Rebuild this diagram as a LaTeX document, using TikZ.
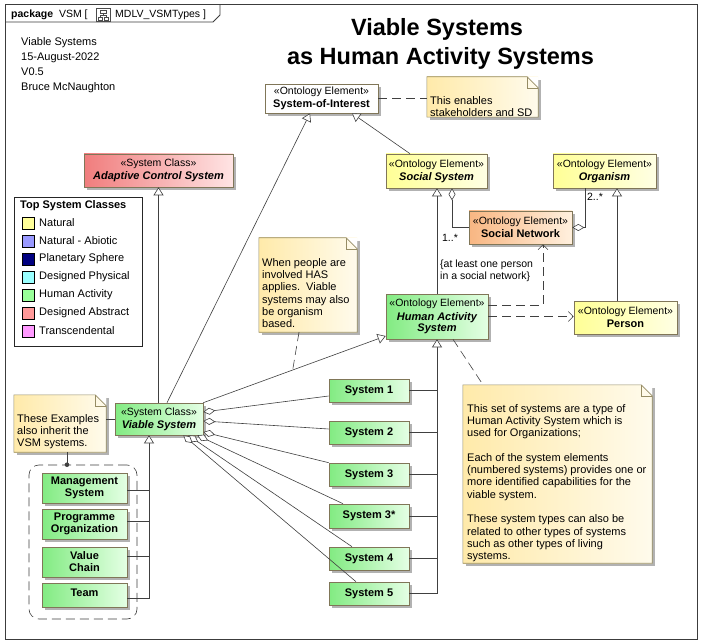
\documentclass[tikz,border=0pt]{standalone}
\usepackage{fontspec}
\setmainfont{Liberation Sans}
\usetikzlibrary{arrows.meta,shadows,calc}
\definecolor{bordc}{RGB}{128,118,88}
\definecolor{linec}{RGB}{64,64,64}
\definecolor{frmc}{RGB}{60,60,60}
\definecolor{yelL}{RGB}{255,255,150}
\definecolor{yelR}{RGB}{255,255,228}
\definecolor{grnL}{RGB}{130,235,130}
\definecolor{grnR}{RGB}{228,255,228}
\definecolor{redL}{RGB}{240,125,125}
\definecolor{redR}{RGB}{255,228,228}
\definecolor{orgL}{RGB}{248,182,130}
\definecolor{orgR}{RGB}{255,240,222}
\definecolor{noteL}{RGB}{255,234,170}
\definecolor{noteR}{RGB}{255,251,236}
\definecolor{noteB}{RGB}{150,140,100}
\newcommand\dfont{\fontsize{10.5}{12.3}\selectfont}
\newcommand\nfont{\fontsize{11}{12.3}\selectfont}
\newcommand\bfont{\fontsize{11}{13}\selectfont\bfseries}
\newcommand\notefold[1]{%
  \fill[white] (#1.north east) -- ([xshift=-11pt]#1.north east) -- ([yshift=-11pt]#1.north east) -- cycle;
  \draw[draw=noteB, line width=0.6pt] (#1.north west) -- ([xshift=-11pt]#1.north east) -- ([yshift=-11pt]#1.north east) -- (#1.south east) -- (#1.south west) -- cycle;
  \draw[draw=noteB, line width=0.5pt] ([xshift=-11pt]#1.north east) |- ([yshift=-11pt]#1.north east);}
\begin{document}
\begin{tikzpicture}[x=1pt,y=-1pt,
  shad/.style={general shadow={fill=black!30, shadow xshift=3pt, shadow yshift=-3pt}},
  box/.style={shad, draw=bordc, line width=0.6pt, inner sep=0pt, align=center, font=\dfont},
  wht/.style={box, fill=white},
  yel/.style={box, left color=yelL, right color=yelR},
  grn/.style={box, left color=grnL, right color=grnR},
  red/.style={box, left color=redL, right color=redR},
  org/.style={box, left color=orgL, right color=orgR},
  notebox/.style={shad, left color=noteL, right color=noteR, inner sep=0pt},
  notetext/.style={anchor=north west, inner sep=0pt, align=left, font=\nfont},
  swatch/.style={draw=black, line width=0.6pt, minimum width=12pt, minimum height=12pt, inner sep=0pt},
  legtext/.style={anchor=west, inner sep=0pt, font=\nfont},
  gen/.style={draw=linec, line width=0.6pt, -{Triangle[length=8pt, width=10pt, fill=white, line width=0.6pt]}},
  agg/.style={draw=linec, line width=0.6pt, {Diamond[length=12pt, width=7pt, fill=white, line width=0.6pt]}-},
  dep/.style={draw=linec, line width=0.6pt, dash pattern=on 9pt off 5pt, -{Straight Barb[length=5pt, width=10pt]}},
  nlink/.style={draw=linec, line width=0.6pt, dash pattern=on 9pt off 5pt},
  plain/.style={draw=linec, line width=0.6pt},
  lbl/.style={inner sep=0pt, font=\dfont}
]
\useasboundingbox (0,0) rectangle (701,644);
\fill[white] (0,0) rectangle (701,644);
% frame
\draw[frmc, line width=1pt] (5,5) rectangle (697,639);
\draw[frmc, line width=0.8pt] (5,22) -- (213,22) -- (220,15) -- (220,5);
\node[anchor=base west, inner sep=0pt, font=\dfont] (pk) at (11,18) {\textbf{package}\ \ VSM [};
\draw[black!70, line width=0.5pt] (96,8) rectangle (110,21);
\draw[black!70, line width=0.5pt] (100,10) rectangle (106,13.5) (98,17) rectangle (102,20) (104,17) rectangle (108,20);
\draw[black!70, line width=0.4pt] (103,13.5) -- (103,15.5) (100,15.5) -- (106,15.5) (100,15.5) -- (100,17) (106,15.5) -- (106,17);
\node[anchor=base west, inner sep=0pt, font=\dfont] (pk2) at (115,18) {MDLV\_VSMTypes ]};
% header text
\node[anchor=base west, inner sep=0pt, font=\nfont] (i1) at (21,46) {Viable Systems};
\node[anchor=base west, inner sep=0pt, font=\nfont] (i2) at (21,61) {15-August-2022};
\node[anchor=base west, inner sep=0pt, font=\nfont] (i3) at (21,75.5) {V0.5};
\node[anchor=base west, inner sep=0pt, font=\nfont] (i4) at (21,90.5) {Bruce McNaughton};
\node[anchor=base, inner sep=0pt, font=\fontsize{23.5}{28}\selectfont\bfseries] (t1) at (437,36) {Viable Systems};
\node[anchor=base, inner sep=0pt, font=\fontsize{23.5}{28}\selectfont\bfseries] (t2) at (440.5,65) {as Human Activity Systems};
% legend
\node[draw=black!85, line width=0.7pt, minimum width=128pt, minimum height=149pt, anchor=north west, inner sep=0pt] (legend) at (14,197) {};
\node[anchor=base west, inner sep=0pt, font=\bfont] (legt) at (20,209) {Top System Classes};
\node[swatch, fill={rgb,255:red,255;green,255;blue,153}] (sw1) at (28.5,223) {};
\node[legtext] (lt1) at (39,223) {Natural};
\node[swatch, fill={rgb,255:red,153;green,153;blue,255}] (sw2) at (28.5,241) {};
\node[legtext] (lt2) at (39,241) {Natural - Abiotic};
\node[swatch, fill={rgb,255:red,0;green,0;blue,128}] (sw3) at (28.5,259) {};
\node[legtext] (lt3) at (39,259) {Planetary Sphere};
\node[swatch, fill={rgb,255:red,153;green,255;blue,255}] (sw4) at (28.5,277) {};
\node[legtext] (lt4) at (39,277) {Designed Physical};
\node[swatch, fill={rgb,255:red,153;green,255;blue,153}] (sw5) at (28.5,295) {};
\node[legtext] (lt5) at (39,295) {Human Activity};
\node[swatch, fill={rgb,255:red,255;green,153;blue,153}] (sw6) at (28.5,313) {};
\node[legtext] (lt6) at (39,313) {Designed Abstract};
\node[swatch, fill={rgb,255:red,255;green,153;blue,255}] (sw7) at (28.5,331) {};
\node[legtext] (lt7) at (39,331) {Transcendental};
% class nodes
\node[wht, minimum width=113pt, minimum height=29pt] (soi) at (321.5,98.5) {«Ontology Element»\\[1pt]{\bfont System-of-Interest}};
\node[yel, minimum width=101pt, minimum height=34pt] (ss) at (436.5,171) {«Ontology Element»\\[1pt]{\bfont\itshape Social System}};
\node[yel, minimum width=103pt, minimum height=34pt] (org) at (604.5,171) {«Ontology Element»\\[1pt]{\bfont\itshape Organism}};
\node[org, minimum width=103pt, minimum height=33pt] (sn) at (520.5,227.5) {«Ontology Element»\\[1pt]{\bfont Social Network}};
\node[grn, minimum width=102pt, minimum height=45pt] (has) at (437,316.5) {«Ontology Element»\\[1pt]{\bfont\itshape Human Activity}\\[-1pt]{\bfont\itshape System}};
\node[yel, minimum width=103pt, minimum height=33pt] (per) at (625.5,317.5) {«Ontology Element»\\[1pt]{\bfont Person}};
\node[red, minimum width=149pt, minimum height=33pt] (acs) at (158.5,170.5) {«System Class»\\[1pt]{\bfont\itshape Adaptive Control System}};
\node[grn, minimum width=88pt, minimum height=32pt] (vs) at (159,419) {«System Class»\\[1pt]{\bfont\itshape Viable System}};
\node[grn, minimum width=80pt, minimum height=23pt, font=\bfont] (s1) at (369,390.5) {System 1};
\node[grn, minimum width=80pt, minimum height=23pt, font=\bfont] (s2) at (369,432.5) {System 2};
\node[grn, minimum width=80pt, minimum height=23pt, font=\bfont] (s3) at (369,474.5) {System 3};
\node[grn, minimum width=80pt, minimum height=24pt, font=\bfont] (s3s) at (369,516) {System 3*};
\node[grn, minimum width=80pt, minimum height=23pt, font=\bfont] (s4) at (369,558.5) {System 4};
\node[grn, minimum width=80pt, minimum height=23pt, font=\bfont] (s5) at (369,593.5) {System 5};
% examples group
\node[draw=linec, line width=0.6pt, dash pattern=on 9pt off 5pt, rounded corners=10pt, minimum width=108pt, minimum height=154pt, inner sep=0pt] (grp) at (83,542) {};
\node[grn, minimum width=85pt, minimum height=30pt, font=\bfont] (ms) at (84.5,488) {Management\\[-1pt]System};
\node[grn, minimum width=85pt, minimum height=30pt, font=\bfont] (po) at (84.5,524) {Programme\\[-1pt]Organization};
\node[grn, minimum width=85pt, minimum height=30pt, font=\bfont] (vc) at (84.5,562) {Value\\[-1pt]Chain};
\node[grn, minimum width=85pt, minimum height=24pt, font=\bfont, text depth=4pt] (team) at (84.5,595) {Team};
% notes
\node[notebox, minimum width=111pt, minimum height=40pt] (n1) at (482.5,97) {};
\notefold{n1}
\node[notetext] (n1t) at (430,96) {This enables\\stakeholders and SD};
\node[notebox, minimum width=98pt, minimum height=94pt] (n2) at (308,285) {};
\notefold{n2}
\node[notetext] (n2t) at (262,258) {When people are\\involved HAS\\applies.\ \ Viable\\systems may also\\be organism\\based.};
\node[notebox, minimum width=92pt, minimum height=57pt] (n3) at (60,423.5) {};
\notefold{n3}
\node[notetext] (n3t) at (17,414) {These Examples\\also inherit the\\VSM systems.};
\node[notebox, minimum width=189pt, minimum height=178pt] (n4) at (557.5,474) {};
\notefold{n4}
\node[notetext] (n4t) at (467,404) {This set of systems are a type of\\Human Activity System which is\\used for Organizations;\\[12.3pt]Each of the system elements\\(numbered systems) provides one or\\more identified capabilities for the\\viable system.\\[12.3pt]These system types can also be\\related to other types of systems\\such as other types of living\\systems.};
% generalizations
\draw[gen] ([xshift=8pt]vs.north) -- ([xshift=-11.5pt]soi.south);
\draw[gen] ([xshift=-26.5pt]ss.north) -- ([xshift=30.5pt]soi.south);
\draw[gen] (vs.north -| acs.south) -- (acs.south);
\draw[gen] (has.north) -- (has.north |- ss.south);
\draw[gen] ([xshift=-8.5pt]per.north) -- ([xshift=-8.5pt]per.north |- org.south);
\coordinate (hasin) at ([yshift=-19.5pt]has.west);
\draw[gen] (vs.north east) -- (hasin);
\draw[gen] (s5.east) -| (has.south);
\draw[plain] (s1.east) -- (s1.east -| has.south);
\draw[plain] (s2.east) -- (s2.east -| has.south);
\draw[plain] (s3.east) -- (s3.east -| has.south);
\draw[plain] (s3s.east) -- (s3s.east -| has.south);
\draw[plain] (s4.east) -- (s4.east -| has.south);
\coordinate (vsb) at ([xshift=-10pt]vs.south);
\draw[gen] ([yshift=-3pt]team.east) -| (vsb);
\draw[plain] ([yshift=-2pt]ms.east) -- ([yshift=-2pt]ms.east -| vsb);
\draw[plain] ([yshift=3pt]po.east) -- ([yshift=3pt]po.east -| vsb);
\draw[plain] ([yshift=6pt]vc.east) -- ([yshift=6pt]vc.east -| vsb);
% aggregations
\draw[agg] ([xshift=15.5pt]ss.south) |- (sn.west);
\draw[agg] (sn.east) -| ([xshift=-19.5pt]org.south);
\node[lbl] (m1) at (450,238) {1..*};
\node[lbl] (m2) at (595,197) {2..*};
\draw[agg] ([yshift=7pt]vs.east) -- ([yshift=-5.5pt]s1.west);
\draw[agg] ([yshift=-2pt]vs.east) -- ([yshift=3.5pt]s2.west);
\draw[agg] ([yshift=-13pt]vs.east) -- (s3.north west);
\draw[agg] ([xshift=-6pt]vs.south east) -- ([xshift=-26pt]s3s.north);
\draw[agg] ([xshift=-15pt]vs.south east) -- ([xshift=-17pt]s4.north);
\draw[agg] ([xshift=-20pt]vs.south east) -- ([xshift=-13pt]s5.north);
% dependencies
\draw[dep] ([yshift=11.5pt]has.east) -| ([xshift=22.5pt]sn.south);
\draw[dep] (has.east) -- (has.east -| per.west);
\node[lbl, anchor=west, align=left] (cst) at (440,271) {\{at least one person\\in a social network\}};
% note links
\draw[nlink] (soi.east) -- (soi.east -| n1.west);
\coordinate (l1) at ($(vs.north east)!0.49!(hasin)$);
\draw[nlink] ([xshift=-9pt]n2.south) -- (l1);
\draw[nlink] ([xshift=16pt]has.south) -- ([xshift=-74.5pt]n4.north);
\draw[plain] (vs.west -| n3.east) -- (vs.west);
\coordinate (gdot) at ([xshift=-16pt]grp.north);
\draw[plain] ([xshift=7pt]n3.south) -- (gdot);
\fill[linec] (gdot) circle (2.3pt);
\end{tikzpicture}
\end{document}
